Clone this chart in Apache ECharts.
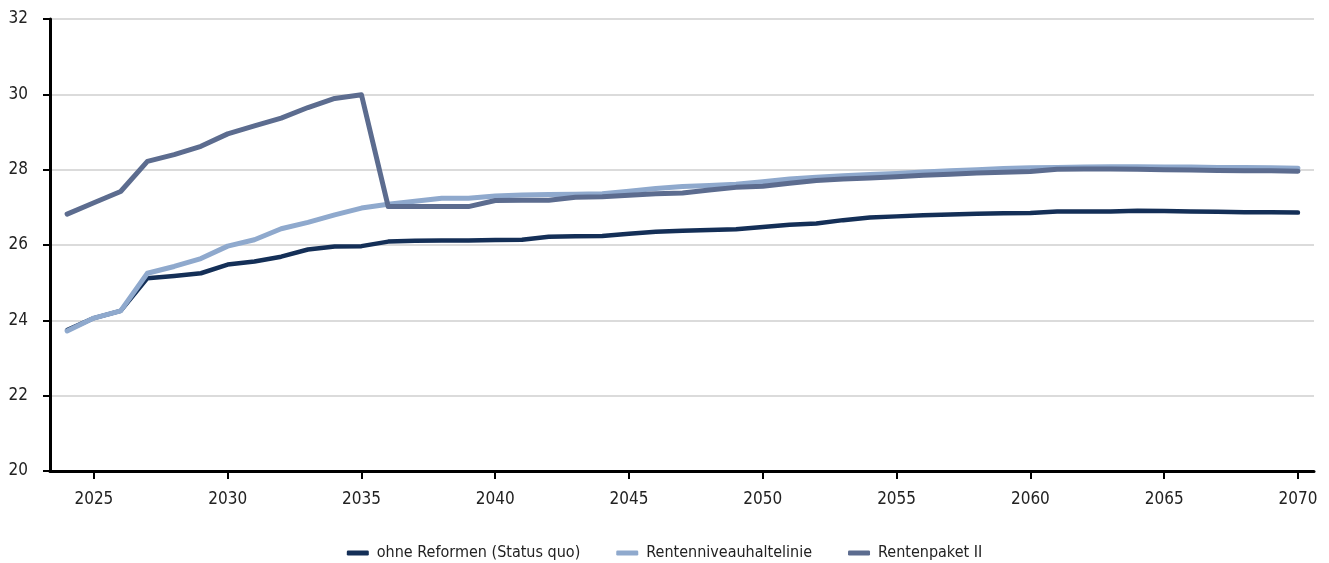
<!DOCTYPE html>
<html>
<head>
<meta charset="utf-8">
<script src="https://cdn.jsdelivr.net/npm/echarts@6/dist/echarts.min.js"></script>
<style>
    html, body { margin: 0; padding: 0; background: #fff; }
    #main { width: 1329px; height: 563px; }
</style>
</head>
<body>
<div id="main"></div>
<script>
// Jahre 2024 - 2070
const years = []
for (let y = 2024; y <= 2070; y++) years.push(y)

const xTicks = [2025, 2030, 2035, 2040, 2045, 2050, 2055, 2060, 2065, 2070]

const ohneReformen = [
    23.74, 24.06, 24.25, 25.12, 25.18, 25.25, 25.48, 25.56, 25.69, 25.88,
    25.96, 25.97, 26.09, 26.11, 26.12, 26.12, 26.13, 26.14, 26.22, 26.23,
    26.24, 26.30, 26.35, 26.38, 26.40, 26.42, 26.48, 26.54, 26.57, 26.66,
    26.73, 26.76, 26.79, 26.81, 26.83, 26.84, 26.85, 26.89, 26.89, 26.89,
    26.91, 26.90, 26.89, 26.88, 26.87, 26.87, 26.86
]

const haltelinie = [
    23.72, 24.06, 24.25, 25.25, 25.43, 25.64, 25.97, 26.14, 26.43, 26.60,
    26.80, 26.98, 27.08, 27.16, 27.24, 27.24, 27.30, 27.33, 27.34, 27.35,
    27.36, 27.43, 27.50, 27.55, 27.58, 27.61, 27.68, 27.75, 27.80, 27.84,
    27.87, 27.90, 27.94, 27.97, 28.00, 28.03, 28.05, 28.06, 28.07, 28.08,
    28.08, 28.07, 28.07, 28.06, 28.06, 28.05, 28.04
]

const rentenpaket = [
    26.82, 27.12, 27.42, 28.22, 28.40, 28.62, 28.95, 29.16, 29.37, 29.65,
    29.89, 29.99, 27.02, 27.02, 27.02, 27.02, 27.18, 27.19, 27.19, 27.27,
    27.28, 27.32, 27.36, 27.38, 27.46, 27.53, 27.56, 27.64, 27.71, 27.75,
    27.78, 27.81, 27.85, 27.88, 27.91, 27.93, 27.95, 28.01, 28.02, 28.02,
    28.01, 28.00, 27.99, 27.98, 27.97, 27.97, 27.96
]

const names = ['ohne Reformen (Status quo)', 'Rentenniveauhaltelinie', 'Rentenpaket II']
const colors = ['#142f57', '#8fa9cd', '#5c6c8f']

const font = "'Liberation Sans Narrow', 'Arial Narrow', 'DejaVu Sans Condensed', sans-serif"

function pairs(vals) {
    return years.map((y, i) => [y, vals[i]])
}

function lineSeries(name, vals, color, width) {
    return {
        name: name,
        type: 'line',
        data: pairs(vals),
        showSymbol: false,
        symbol: 'none',
        animation: false,
        lineStyle: { color: color, width: width, cap: 'round', join: 'round' },
        itemStyle: { color: color }
    }
}

let chart = echarts.init(document.getElementById('main'))
chart.setOption({
    backgroundColor: '#fff',
    color: colors,
    animation: false,
    grid: { left: 50, right: 15, top: 19, bottom: 92, containLabel: false },
    legend: {
        top: 540,
        left: 'center',
        icon: 'roundRect',
        itemWidth: 22,
        itemHeight: 5,
        itemGap: 36,
        textStyle: { fontFamily: font, fontSize: 16, color: '#222', padding: [0, 0, 0, 3] },
        data: names
    },
    xAxis: {
        type: 'value',
        min: 2023.36,
        max: 2070.6,
        splitLine: { show: false },
        axisLine: { show: true, lineStyle: { color: '#000', width: 3 } },
        axisTick: { show: true, length: 8, customValues: xTicks, lineStyle: { color: '#000', width: 2 } },
        axisLabel: {
            customValues: xTicks,
            margin: 20,
            fontFamily: font,
            fontSize: 17,
            color: '#222',
            formatter: v => String(v)
        }
    },
    yAxis: {
        type: 'value',
        min: 20,
        max: 32,
        interval: 2,
        axisLine: { show: true, lineStyle: { color: '#000', width: 3 } },
        axisTick: { show: true, length: 7, lineStyle: { color: '#000', width: 2 } },
        splitLine: { show: true, lineStyle: { color: '#cfcfcf', width: 1.5 } },
        axisLabel: { margin: 22, fontFamily: font, fontSize: 17, color: '#222' }
    },
    series: [
        lineSeries(names[0], ohneReformen, colors[0], 4.5),
        lineSeries(names[1], haltelinie, colors[1], 5),
        lineSeries(names[2], rentenpaket, colors[2], 5)
    ]
})
</script>
</body>
</html>
